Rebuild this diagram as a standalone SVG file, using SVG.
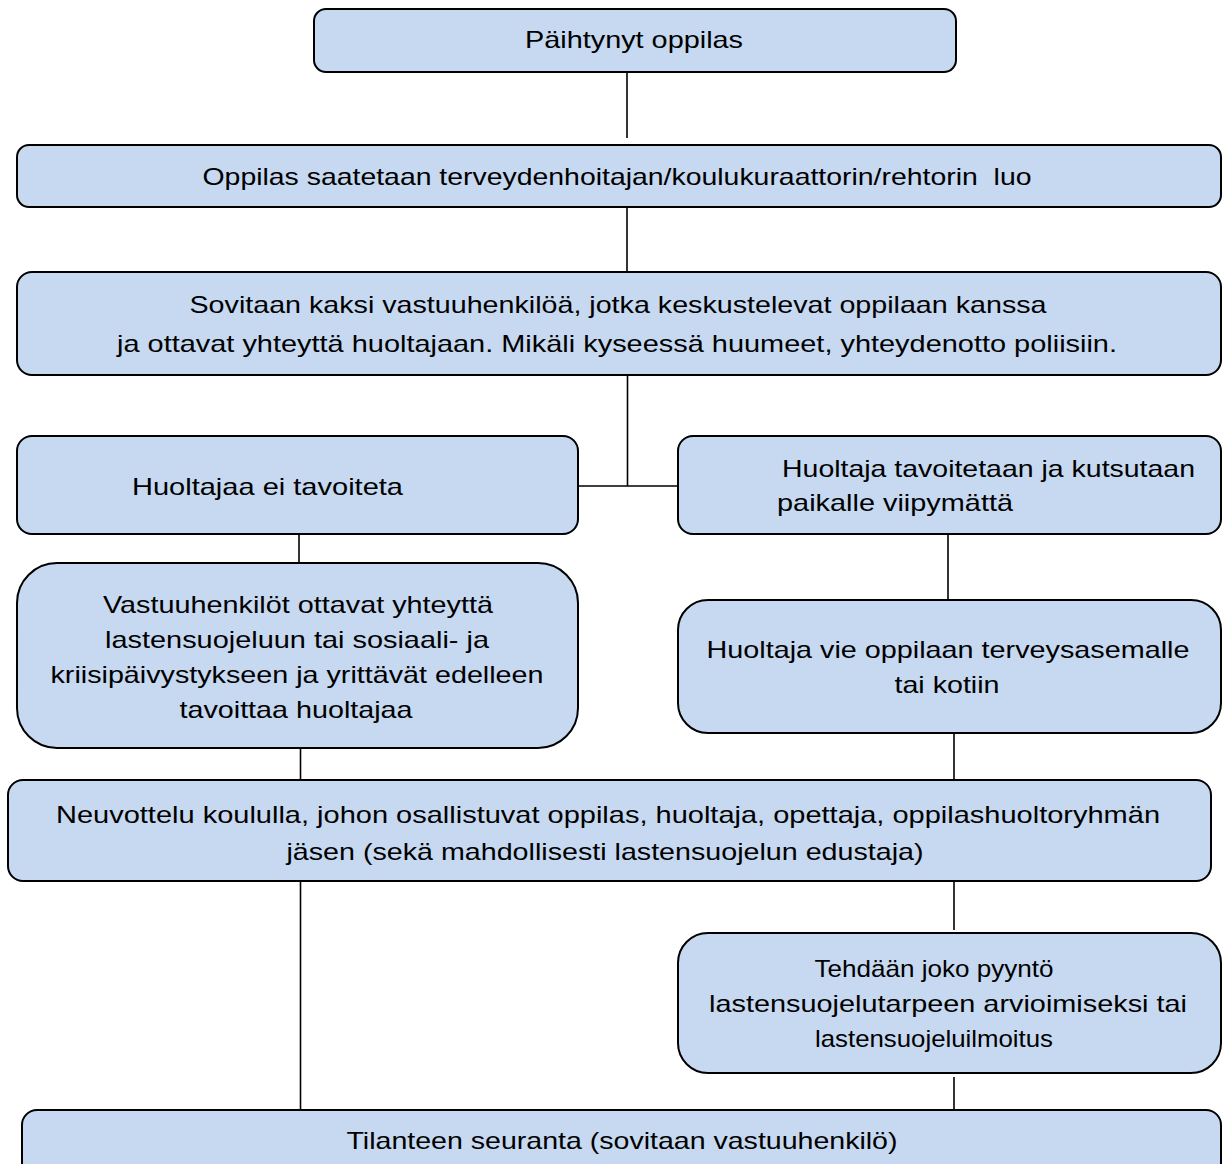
<svg xmlns="http://www.w3.org/2000/svg" width="1224" height="1164" viewBox="0 0 1224 1164">
<style>
.box{fill:#C6D9F1;stroke:#000;stroke-width:2}
.c{stroke:#000;stroke-width:1.6;fill:none}
text{font-family:"Liberation Sans",Arial,sans-serif;font-size:24px;fill:#000}
.m{text-anchor:middle}
</style>
<rect width="1224" height="1164" fill="#fff"/>
<g id="connectors">
<path class="c" d="M627 72V138"/>
<path class="c" d="M627 207V272"/>
<path class="c" d="M627.5 375V486M578 486H678"/>
<path class="c" d="M299 534V562"/>
<path class="c" d="M948 534V599"/>
<path class="c" d="M300.5 748V780"/>
<path class="c" d="M954 733V780"/>
<path class="c" d="M300.5 881V1110"/>
<path class="c" d="M954 881V930"/>
<path class="c" d="M954 1077V1110"/>
</g>
<g id="n1"><rect class="box" x="314" y="9" width="642" height="63" rx="12"/>
<text x="634" y="48" class="m" textLength="218" lengthAdjust="spacingAndGlyphs">Päihtynyt oppilas</text></g>
<g id="n2"><rect class="box" x="17" y="145" width="1204" height="62" rx="12"/>
<text x="617" y="185" class="m" textLength="829" lengthAdjust="spacingAndGlyphs" xml:space="preserve">Oppilas saatetaan terveydenhoitajan/koulukuraattorin/rehtorin  luo</text></g>
<g id="n3"><rect class="box" x="17" y="272" width="1204" height="103" rx="15"/>
<text x="618" y="313" class="m" textLength="857" lengthAdjust="spacingAndGlyphs">Sovitaan kaksi vastuuhenkilöä, jotka keskustelevat oppilaan kanssa</text>
<text x="617" y="352" class="m" textLength="1000" lengthAdjust="spacingAndGlyphs">ja ottavat yhteyttä huoltajaan. Mikäli kyseessä huumeet, yhteydenotto poliisiin.</text></g>
<g id="n4"><rect class="box" x="17" y="436" width="561" height="98" rx="15"/>
<text x="132" y="495" textLength="271" lengthAdjust="spacingAndGlyphs">Huoltajaa ei tavoiteta</text></g>
<g id="n5"><rect class="box" x="678" y="436" width="543" height="98" rx="15"/>
<text x="782" y="477" textLength="413" lengthAdjust="spacingAndGlyphs">Huoltaja tavoitetaan ja kutsutaan</text>
<text x="777" y="511" textLength="236" lengthAdjust="spacingAndGlyphs">paikalle viipymättä</text></g>
<g id="n6"><rect class="box" x="17" y="563" width="561" height="185" rx="40"/>
<text x="298" y="613" class="m" textLength="390" lengthAdjust="spacingAndGlyphs">Vastuuhenkilöt ottavat yhteyttä</text>
<text x="297" y="648" class="m" textLength="384" lengthAdjust="spacingAndGlyphs">lastensuojeluun tai sosiaali- ja</text>
<text x="297" y="683" class="m" textLength="493" lengthAdjust="spacingAndGlyphs">kriisipäivystykseen ja yrittävät edelleen</text>
<text x="296" y="718" class="m" textLength="233" lengthAdjust="spacingAndGlyphs">tavoittaa huoltajaa</text></g>
<g id="n7"><rect class="box" x="678" y="600" width="543" height="133" rx="30"/>
<text x="948" y="658" class="m" textLength="483" lengthAdjust="spacingAndGlyphs">Huoltaja vie oppilaan terveysasemalle</text>
<text x="947" y="693" class="m" textLength="105" lengthAdjust="spacingAndGlyphs">tai kotiin</text></g>
<g id="n8"><rect class="box" x="8" y="780" width="1203" height="101" rx="15"/>
<text x="608" y="823" class="m" textLength="1104" lengthAdjust="spacingAndGlyphs">Neuvottelu koululla, johon osallistuvat oppilas, huoltaja, opettaja, oppilashuoltoryhmän</text>
<text x="605" y="860" class="m" textLength="637" lengthAdjust="spacingAndGlyphs">jäsen (sekä mahdollisesti lastensuojelun edustaja)</text></g>
<g id="n9"><rect class="box" x="678" y="933" width="543" height="140" rx="30"/>
<text x="934" y="977" class="m" textLength="239" lengthAdjust="spacingAndGlyphs">Tehdään joko pyyntö</text>
<text x="948" y="1012" class="m" textLength="478" lengthAdjust="spacingAndGlyphs">lastensuojelutarpeen arvioimiseksi tai</text>
<text x="934" y="1047" class="m" textLength="238" lengthAdjust="spacingAndGlyphs">lastensuojeluilmoitus</text></g>
<g id="n10"><rect class="box" x="22" y="1110" width="1199" height="70" rx="15"/>
<text x="622" y="1149" class="m" textLength="551" lengthAdjust="spacingAndGlyphs">Tilanteen seuranta (sovitaan vastuuhenkilö)</text></g>
</svg>
